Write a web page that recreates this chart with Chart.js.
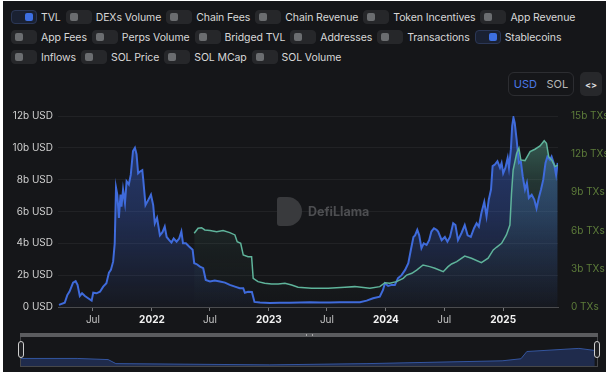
<!DOCTYPE html>
<html>
<head>
<meta charset="utf-8">
<script src="https://cdn.jsdelivr.net/npm/chart.js@4.4.1/dist/chart.umd.min.js"></script>
<style>
  body { margin: 0; background: #fff; }
  #wrap { position: absolute; left: 3px; top: 1px; width: 603px; height: 371px; background: #151619; font-family: Inter, "Noto Sans", sans-serif; overflow: hidden; }
  #legend { position: absolute; left: 8px; top: 9px; width: 590px; }
  .row { display: flex; height: 14px; margin-bottom: 6px; }
  .item { display: flex; align-items: center; height: 14px; margin-right: 5px; color: #d8d8d8; font-size: 10.5px; letter-spacing: -0.1px; white-space: nowrap; }
  .tog { width: 24px; height: 12px; border-radius: 4px; background: #26272a; border: 1px solid #26272a; position: relative; margin-right: 4px; }
  .tog i { position: absolute; top: 2px; left: 3px; width: 8px; height: 8px; border-radius: 2px; background: #6b6d70; }
  .tog.on { background: #1a2132; border-color: #2b3756; }
  .tog.on i { left: auto; right: 3px; background: #3d6fe2; }
  #unit { position: absolute; left: 505px; top: 71px; width: 64px; height: 22px; border: 1px solid #2c2d31; border-radius: 6px; font-size: 11px; display: flex; align-items: center; justify-content: space-around; }
  #unit .a { color: #4a78e8; } #unit .b { color: #b8b8b8; }
  #embed { position: absolute; left: 577px; top: 71px; width: 22px; height: 24px; border-radius: 5px; background: #27282b; color: #ddd; font-size: 9px; font-weight: 700; display: flex; align-items: center; justify-content: center; }
  #main { position: absolute; left: 0; top: 96px; width: 603px; height: 234px; }
  #mark { position: absolute; left: 274px; top: 196px; display: flex; align-items: center; pointer-events: none; }
  #mark .ico { width: 25px; height: 29px; border-radius: 3px 15px 15px 3px; background: #393a3d; margin-right: 6px; }
  #mark span { color: #4d4e51; font-weight: 700; font-size: 12.5px; }
  #bar { position: absolute; left: 17px; top: 332px; width: 578px; height: 4px; background: #5b5c5f; }
  #bar b { position: absolute; left: 286px; top: 1px; width: 5px; height: 2px; border-left: 1px solid #aaa; border-right: 1px solid #aaa; }
  #box { position: absolute; left: 17px; top: 336px; width: 576px; height: 29px; border: 1px solid #46474a; border-top: none; }
  #brush { position: absolute; left: 18px; top: 336px; width: 576px; height: 29px; }
  .handle { position: absolute; top: 340px; width: 4px; height: 15px; border: 1px solid #cfcfcf; border-radius: 3px; background: #202124; }
</style>
</head>
<body>
<div id="wrap">
  <div id="legend"></div>
  <div id="unit"><span class="a">USD</span><span class="b">SOL</span></div>
  <div id="embed">&lt;&gt;</div>
  <div id="main"><canvas id="chart"></canvas></div>
  <div id="mark"><div class="ico"></div><span>DefiLlama</span></div>
  <div id="bar"><b></b></div>
  <div id="box"></div>
  <div id="brush"><canvas id="mini"></canvas></div>
  <div class="handle" style="left:15px"></div>
  <div class="handle" style="left:591px"></div>
</div>
<script>
const legendRow1 = ['TVL', 'DEXs Volume', 'Chain Fees', 'Chain Revenue', 'Token Incentives', 'App Revenue'];
const legendRow2 = ['App Fees', 'Perps Volume', 'Bridged TVL', 'Addresses', 'Transactions', 'Stablecoins'];
const legendRow3 = ['Inflows', 'SOL Price', 'SOL MCap', 'SOL Volume'];
const activeSeries = ['TVL', 'Stablecoins'];

const startDate = '2021-03-14';
const endDate = '2025-06-21';
const tickDates = ['2021-07-01', '2022-01-01', '2022-07-01', '2023-01-01', '2023-07-01', '2024-01-01', '2024-07-01', '2025-01-01'];
const tickLabels = ['Jul', '2022', 'Jul', '2023', 'Jul', '2024', 'Jul', '2025'];

// TVL, billions USD (left axis)
const tvlDates = ['2021-03-17','2021-04-04','2021-04-12','2021-04-19','2021-04-30','2021-05-08','2021-05-14','2021-05-21','2021-05-28','2021-06-06',
  '2021-06-16','2021-06-27','2021-07-02','2021-07-12','2021-07-23','2021-08-02','2021-08-12','2021-08-20','2021-08-26','2021-09-02',
  '2021-09-07','2021-09-11','2021-09-15','2021-09-20','2021-09-25','2021-09-28','2021-10-03','2021-10-09','2021-10-14','2021-10-21',
  '2021-10-27','2021-11-03','2021-11-09','2021-11-14','2021-11-19','2021-11-24','2021-12-02','2021-12-05','2021-12-12','2021-12-20',
  '2021-12-29','2022-01-05','2022-01-10','2022-01-17','2022-01-26','2022-02-03','2022-02-10','2022-02-16','2022-02-24','2022-03-03',
  '2022-03-10','2022-03-19','2022-03-27','2022-04-03','2022-04-08','2022-04-17','2022-04-27','2022-05-08','2022-05-13','2022-05-20',
  '2022-05-31','2022-06-10','2022-06-18','2022-07-01','2022-07-16','2022-08-01','2022-08-17','2022-09-01','2022-09-17','2022-10-02',
  '2022-10-13','2022-10-18','2022-10-28','2022-11-09','2022-11-17','2022-12-04','2023-01-04','2023-02-04','2023-03-07','2023-04-08',
  '2023-05-09','2023-06-09','2023-07-10','2023-08-10','2023-09-11','2023-10-12','2023-11-02','2023-11-22','2023-12-13','2023-12-23',
  '2023-12-29','2024-01-08','2024-01-19','2024-01-29','2024-02-08','2024-02-19','2024-03-01','2024-03-11','2024-03-19','2024-03-27',
  '2024-04-01','2024-04-08','2024-04-14','2024-04-21','2024-04-28','2024-05-07','2024-05-15','2024-05-22','2024-05-30','2024-06-07',
  '2024-06-12','2024-06-23','2024-07-03','2024-07-11','2024-07-19','2024-07-29','2024-08-05','2024-08-13','2024-08-24','2024-09-03',
  '2024-09-12','2024-09-22','2024-10-02','2024-10-10','2024-10-17','2024-10-25','2024-11-03','2024-11-10','2024-11-17','2024-11-24',
  '2024-11-29','2024-12-06','2024-12-14','2024-12-22','2024-12-27','2025-01-01','2025-01-08','2025-01-15','2025-01-19','2025-01-25',
  '2025-01-29','2025-02-02','2025-02-06','2025-02-12','2025-02-19','2025-02-25','2025-03-03','2025-03-10','2025-03-16','2025-03-22',
  '2025-03-31','2025-04-08','2025-04-15','2025-04-22','2025-04-29','2025-05-06','2025-05-13','2025-05-19','2025-05-27','2025-06-01',
  '2025-06-09','2025-06-15','2025-06-20'];
const tvlValues = [0.13,0.27,0.75,0.97,1.53,1.62,1.39,0.69,0.86,0.69,
  0.55,0.40,0.90,0.86,0.96,1.28,1.49,2.16,2.33,2.85,
  4.0,7.5,7.06,5.6,7.06,6.3,7.38,6.53,7.9,7.7,
  8.3,9.8,10.0,9.6,8.4,8.5,8.6,8.0,6.4,6.7,
  7.05,6.4,5.26,5.6,4.5,4.7,5.05,4.4,4.2,4.05,
  4.3,4.1,4.3,4.74,4.0,4.0,3.8,3.6,2.75,2.7,
  2.54,2.44,1.70,1.60,1.66,1.60,1.53,1.39,1.28,1.18,
  1.18,0.90,0.96,0.95,0.32,0.28,0.25,0.27,0.26,0.28,
  0.30,0.29,0.28,0.30,0.30,0.30,0.40,0.55,0.65,1.07,
  1.49,1.32,1.39,1.39,1.81,2.0,2.33,2.75,3.6,4.4,
  4.5,4.85,4.5,3.7,4.0,3.9,4.2,4.74,4.95,4.85,
  4.74,4.2,4.4,4.1,4.4,5.26,5.15,4.2,4.65,5.15,
  4.5,4.4,4.95,5.26,5.05,5.9,6.6,5.7,6.75,7.38,
  8.85,8.95,9.16,8.75,9.05,8.4,8.75,9.37,8.75,9.9,
  11.36,11.9,11.57,10.5,9.05,9.16,8.2,7.38,7.8,6.85,
  7.05,6.75,6.2,6.85,7.38,8.0,9.05,9.45,9.24,9.45,
  8.95,8.3,9.05];

// Stablecoins, billions (right axis)
const stableDates = ['2022-05-13','2022-05-25','2022-06-05','2022-06-15','2022-07-01','2022-07-22','2022-08-11','2022-09-01','2022-09-17','2022-09-24',
  '2022-10-05','2022-10-13','2022-10-28','2022-11-08','2022-11-13','2022-11-28','2022-12-19','2023-01-09','2023-01-30','2023-02-20',
  '2023-03-13','2023-04-02','2023-05-14','2023-07-05','2023-08-26','2023-09-26','2023-11-12','2023-12-13','2023-12-29','2024-01-13',
  '2024-02-03','2024-02-24','2024-03-06','2024-03-22','2024-04-06','2024-04-26','2024-05-17','2024-06-02','2024-06-28','2024-07-13',
  '2024-07-24','2024-08-09','2024-09-03','2024-09-24','2024-10-25','2024-11-15','2024-12-01','2024-12-11','2024-12-27','2025-01-11',
  '2025-01-22','2025-01-27','2025-02-01','2025-02-12','2025-02-19','2025-02-25','2025-03-10','2025-03-26','2025-04-10','2025-04-26',
  '2025-05-09','2025-05-16','2025-05-23','2025-06-01','2025-06-12','2025-06-20'];
const stableValues = [5.79,6.18,6.23,6.05,6.0,5.92,6.0,5.84,5.66,5.13,
  5.0,4.08,3.95,3.95,2.25,1.99,1.86,1.81,1.81,1.86,
  1.73,1.55,1.47,1.47,1.55,1.6,1.47,1.6,1.91,1.86,
  1.99,2.25,2.51,2.65,2.9,3.3,3.17,3.04,2.77,3.17,
  3.38,3.56,4.0,3.83,3.48,3.83,4.48,4.69,5.0,5.66,
  6.44,8.93,10.76,12.07,12.47,11.55,11.5,12.2,12.39,12.65,
  13.06,12.86,11.8,11.55,11.02,11.15];

// overview strip under the chart
const brushDates = ['2021-03-14','2021-03-19','2021-08-13','2021-11-05','2021-11-26','2023-01-17','2023-10-07','2024-10-07','2024-11-27','2024-12-13','2025-05-03','2025-06-15'];
const brushValues = [7.3, 7.3, 7.3, 6.2, 2.3, 1.1, 2.3, 5.0, 7.0, 14, 17, 15];

const toTime = (d) => new Date(d + 'T00:00:00Z').getTime();
const fontFamily = 'Inter, "Noto Sans", sans-serif';
Chart.defaults.font.family = fontFamily;

// legend toggles
const legend = document.getElementById('legend');
for (const rowNames of [legendRow1, legendRow2, legendRow3]) {
  const row = document.createElement('div');
  row.className = 'row';
  for (const name of rowNames) {
    const el = document.createElement('div');
    el.className = 'item';
    el.innerHTML = '<div class="tog' + (activeSeries.includes(name) ? ' on' : '') + '"><i></i></div>' + name;
    row.appendChild(el);
  }
  legend.appendChild(row);
}

function vGrad(ctx, stops) {
  const area = ctx.chart.chartArea;
  if (!area) return stops[0][1];
  const g = ctx.chart.ctx.createLinearGradient(0, area.top, 0, area.bottom);
  for (const s of stops) g.addColorStop(s[0], s[1]);
  return g;
}

new Chart(document.getElementById('chart'), {
  type: 'line',
  data: {
    datasets: [{
      label: 'Stablecoins',
      data: stableDates.map((d, i) => ({ x: toTime(d), y: stableValues[i] })),
      yAxisID: 'y1',
      borderColor: '#5fb49b',
      borderWidth: 1.5,
      pointRadius: 0,
      fill: 'origin',
      backgroundColor: (ctx) => vGrad(ctx, [[0, 'rgba(95,180,155,0.55)'], [0.35, 'rgba(95,180,155,0.2)'], [0.7, 'rgba(95,180,155,0.06)'], [1, 'rgba(95,180,155,0)']]),
      order: 0
    }, {
      label: 'TVL',
      data: tvlDates.map((d, i) => ({ x: toTime(d), y: tvlValues[i] })),
      yAxisID: 'y',
      borderColor: '#3f6bdb',
      borderWidth: 2,
      pointRadius: 0,
      fill: 'origin',
      backgroundColor: (ctx) => vGrad(ctx, [[0, 'rgba(61,104,222,0.45)'], [0.5, 'rgba(61,104,222,0.3)'], [1, 'rgba(61,104,222,0.04)']]),
      order: 1
    }]
  },
  options: {
    responsive: true,
    maintainAspectRatio: false,
    animation: false,
    layout: { padding: { top: 19, left: 0, right: 0, bottom: 0 } },
    plugins: {
      legend: { display: false },
      tooltip: { enabled: false },
      filler: { drawTime: 'beforeDatasetsDraw' }
    },
    scales: {
      x: {
        type: 'linear',
        min: toTime(startDate),
        max: toTime(endDate),
        afterBuildTicks: (scale) => { scale.ticks = tickDates.map(d => ({ value: toTime(d) })); },
        ticks: {
          autoSkip: false,
          maxRotation: 0,
          padding: 3,
          callback: (v, i) => tickLabels[i],
          color: (c) => /^\d{4}$/.test(tickLabels[c.index]) ? '#f2f2f2' : '#c4c4c4',
          font: (c) => ({ family: fontFamily, size: 10, weight: /^\d{4}$/.test(tickLabels[c.index]) ? 'bold' : 'normal' })
        },
        grid: { drawOnChartArea: false, color: '#77787b', tickLength: 4 },
        border: { color: '#4a4b4e' },
        afterFit: (s) => { s.height = 24; }
      },
      y: {
        position: 'left',
        min: 0,
        max: 12,
        ticks: {
          stepSize: 2,
          padding: 5,
          color: '#d0d0d0',
          font: { size: 10 },
          callback: (v) => v === 0 ? '0 USD' : v + 'b USD'
        },
        grid: { color: '#212225', drawTicks: false },
        border: { display: false },
        afterFit: (s) => { s.width = 55; }
      },
      y1: {
        position: 'right',
        min: 0,
        max: 15,
        ticks: {
          stepSize: 3,
          padding: 5,
          color: '#5d7c3a',
          font: { size: 10 },
          callback: (v) => v === 0 ? '0 TXs' : v + 'b TXs'
        },
        grid: { display: false },
        border: { display: false },
        afterFit: (s) => { s.width = 48; }
      }
    }
  }
});

new Chart(document.getElementById('mini'), {
  type: 'line',
  data: {
    datasets: [{
      data: brushDates.map((d, i) => ({ x: toTime(d), y: brushValues[i] })),
      borderColor: '#34559f',
      borderWidth: 1,
      pointRadius: 0,
      fill: 'origin',
      backgroundColor: 'rgba(38,58,110,0.6)'
    }]
  },
  options: {
    responsive: true,
    maintainAspectRatio: false,
    animation: false,
    layout: { padding: 0 },
    plugins: { legend: { display: false }, tooltip: { enabled: false } },
    scales: {
      x: { type: 'linear', display: false, min: toTime(startDate), max: toTime(endDate) },
      y: { display: false, min: 0, max: 28 }
    }
  }
});
</script>
</body>
</html>
